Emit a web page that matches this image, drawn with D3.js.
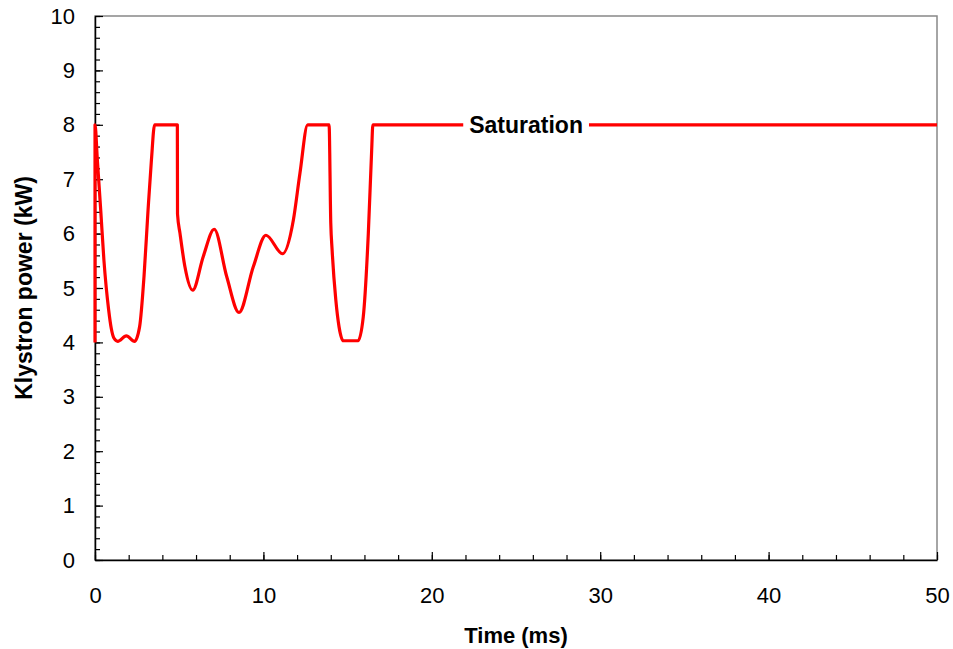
<!DOCTYPE html>
<html>
<head>
<meta charset="utf-8">
<script src="https://cdn.jsdelivr.net/npm/d3@7"></script>
<style>
  body { margin: 0; background: #fff; }
  svg { display: block; font-family: Arial, "Liberation Sans", sans-serif; }
</style>
</head>
<body>
<svg id="chart" width="953" height="649"></svg>
<script>
// Time (ms) and klystron power (kW)
const timeMs = [0, 0.001, 0.14, 0.34, 0.53, 0.81, 0.97, 1.12, 1.35, 1.86, 2.35, 2.65, 2.91, 3.15, 3.35, 3.54,
  4.89, 4.9, 5.05, 5.34, 5.8, 6.43, 7.08, 7.82, 8.55, 9.4, 10.15, 11.14, 11.78, 12.17, 12.63,
  13.9, 14.0, 14.08, 14.3, 14.49, 14.74, 15.62, 15.93, 16.23, 16.43, 16.5, 50];
const powerKW = [4, 8, 7.35, 6.43, 5.51, 4.6, 4.25, 4.08, 4.02, 4.12, 4.02, 4.29, 5.21, 6.43, 7.35, 8,
  8, 6.36, 6.0, 5.39, 4.96, 5.58, 6.08, 5.21, 4.55, 5.39, 5.97, 5.63, 6.25, 7.11, 8,
  8, 6.2, 5.7, 4.78, 4.29, 4.03, 4.03, 4.47, 6.0, 7.54, 8, 8];
const xTicks = [0, 10, 20, 30, 40, 50];
const yTicks = [0, 1, 2, 3, 4, 5, 6, 7, 8, 9, 10];
const labelText = "Saturation";
const labelAt = [25.6, 8];

const W = 953, H = 649;
const m = { left: 95, right: 16, top: 16, bottom: 89 };
const svg = d3.select("#chart");

const x = d3.scaleLinear().domain([0, 50]).range([m.left, W - m.right]);
const y = d3.scaleLinear().domain([0, 10]).range([H - m.bottom, m.top]);

// frame (top/right in gray)
svg.append("rect")
  .attr("x", m.left).attr("y", m.top)
  .attr("width", W - m.left - m.right).attr("height", H - m.top - m.bottom)
  .attr("fill", "none").attr("stroke", "#888").attr("stroke-width", 1.5);

// x axis
const gx = svg.append("g").attr("transform", `translate(0,${H - m.bottom})`);
gx.call(d3.axisTop(x).tickValues(d3.range(0, 50.01, 2)).tickSize(5).tickFormat(""));
gx.select(".domain").remove();
gx.selectAll(".tick line").attr("stroke", "#000").attr("stroke-width", 1.2);
const gx2 = svg.append("g").attr("transform", `translate(0,${H - m.bottom})`);
gx2.call(d3.axisBottom(x).tickValues(xTicks).tickSize(0).tickPadding(27));
gx2.selectAll("text").attr("font-size", 22).attr("fill", "#000");
gx2.select(".domain").attr("stroke", "#000").attr("stroke-width", 1.5);
const gxMaj = svg.append("g").attr("transform", `translate(0,${H - m.bottom})`);
gxMaj.call(d3.axisTop(x).tickValues(xTicks).tickSize(8).tickFormat(""));
gxMaj.select(".domain").remove();
gxMaj.selectAll(".tick line").attr("stroke", "#000").attr("stroke-width", 1.2);

// y axis
const gy = svg.append("g").attr("transform", `translate(${m.left},0)`);
gy.call(d3.axisRight(y).tickValues(d3.range(0, 10.01, 0.2)).tickSize(5).tickFormat(""));
gy.select(".domain").remove();
gy.selectAll(".tick line").attr("stroke", "#000").attr("stroke-width", 1.2);
const gy2 = svg.append("g").attr("transform", `translate(${m.left},0)`);
gy2.call(d3.axisLeft(y).tickValues(yTicks).tickSize(0).tickPadding(20));
gy2.selectAll("text").attr("font-size", 22).attr("fill", "#000");
gy2.select(".domain").attr("stroke", "#000").attr("stroke-width", 1.5);
const gyMaj = svg.append("g").attr("transform", `translate(${m.left},0)`);
gyMaj.call(d3.axisRight(y).tickValues(yTicks).tickSize(8).tickFormat(""));
gyMaj.select(".domain").remove();
gyMaj.selectAll(".tick line").attr("stroke", "#000").attr("stroke-width", 1.2);

// line
const pts = timeMs.map((t, i) => [t, powerKW[i]]);
const line = d3.line().x(d => x(d[0])).y(d => y(d[1])).curve(d3.curveMonotoneX);
svg.append("path").datum(pts)
  .attr("d", line).attr("fill", "none")
  .attr("stroke", "#ff0000").attr("stroke-width", 3.2).attr("stroke-linejoin", "round");

// label with white background
const lblG = svg.append("g");
const bgRect = lblG.append("rect").attr("fill", "#fff");
const lbl = lblG.append("text")
  .attr("x", x(labelAt[0])).attr("y", y(labelAt[1]))
  .attr("dy", "0.35em").attr("text-anchor", "middle")
  .attr("font-size", 23).attr("font-weight", "bold").attr("fill", "#000").text(labelText);
const bb = lbl.node().getBBox();
bgRect.attr("x", bb.x - 6).attr("y", bb.y).attr("width", bb.width + 12).attr("height", bb.height);

// axis titles
svg.append("text").attr("x", (m.left + W - m.right) / 2).attr("y", 643)
  .attr("text-anchor", "middle").attr("font-size", 22).attr("font-weight", "bold").text("Time (ms)");
svg.append("text").attr("transform", `translate(32,${(m.top + H - m.bottom) / 2}) rotate(-90)`)
  .attr("text-anchor", "middle").attr("font-size", 23).attr("font-weight", "bold").text("Klystron power (kW)");
</script>
</body>
</html>
